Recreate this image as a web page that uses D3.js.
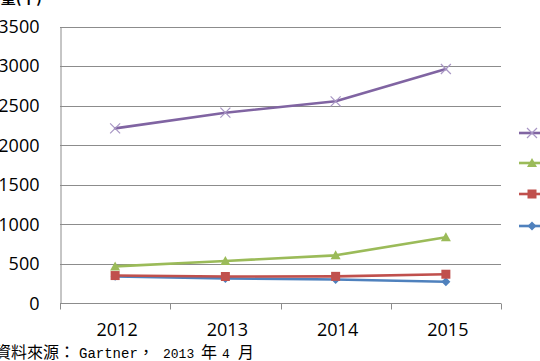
<!DOCTYPE html>
<html>
<head>
<meta charset="utf-8">
<script src="https://cdn.jsdelivr.net/npm/d3@7"></script>
<style>
  html, body { margin: 0; padding: 0; background: #fff; overflow: hidden; }
</style>
</head>
<body>
<div class="chart"></div>
<script>
// Data
var years = ["2012", "2013", "2014", "2015"];
var yTicks = [0, 500, 1000, 1500, 2000, 2500, 3000, 3500];
var seriesNames = ["PC", "PC+Ultramobile", "PC+Ultramobile+Tablet", "Total"];
var pcValues = [341, 315, 302, 272];
var ultraValues = [351, 339, 341, 368];
var tabletValues = [467, 536, 607, 836];
var totalValues = [2213, 2412, 2556, 2965];

var width = 540, height = 361;
var margin = { top: 27, right: 39, bottom: 58, left: 60 };

const svg = d3.select("div.chart")
    .append("svg")
    .attr("width", width)
    .attr("height", height);

var x = d3.scaleBand()
    .domain(years)
    .range([margin.left, width - margin.right]);
var y = d3.scaleLinear()
    .domain([0, 3500])
    .range([height - margin.bottom + 0.3, margin.top - 0.3]);

var grey = "#8c8c8c";

// Horizontal grid lines
svg.append("g")
    .selectAll("line")
    .data(yTicks)
    .join("line")
        .attr("x1", margin.left)
        .attr("x2", width - margin.right)
        .attr("y1", d => Math.round(y(d)) + 0.5)
        .attr("y2", d => Math.round(y(d)) + 0.5)
        .attr("stroke", grey)
        .attr("stroke-width", 1);

// Y axis
svg.append("g")
    .attr("transform", `translate(${margin.left + 0.5},0)`)
    .call(d3.axisLeft(y).tickValues(yTicks).tickFormat(d3.format("d")).tickSize(0).tickPadding(21))
    .call(g => g.select(".domain").attr("stroke", grey))
    .call(g => g.selectAll(".tick text")
        .attr("fill", "#000")
        .style("font-family", "'Open Sans', sans-serif")
        .style("font-size", "18px"));

// X axis: ticks sit between categories
var xAxisY = Math.round(y(0)) + 0.5;
var xg = svg.append("g");
xg.append("line")
    .attr("x1", margin.left)
    .attr("x2", width - margin.right)
    .attr("y1", xAxisY)
    .attr("y2", xAxisY)
    .attr("stroke", grey);
var boundaries = years.map(d => x(d)).concat([x(years[years.length - 1]) + x.bandwidth()]);
xg.selectAll("line.tk")
    .data(boundaries)
    .join("line")
        .attr("class", "tk")
        .attr("x1", d => Math.round(d) + 0.5)
        .attr("x2", d => Math.round(d) + 0.5)
        .attr("y1", xAxisY)
        .attr("y2", xAxisY + 6)
        .attr("stroke", grey);
xg.selectAll("text")
    .data(years)
    .join("text")
        .attr("x", d => x(d) + x.bandwidth() / 2 + 2)
        .attr("y", 336)
        .attr("text-anchor", "middle")
        .style("font-family", "'Open Sans', sans-serif")
        .style("font-size", "18px")
        .text(d => d);

// Series, drawn back to front
var series = [
    { name: seriesNames[0], values: pcValues, color: "#4F81BD", marker: "diamond" },
    { name: seriesNames[1], values: ultraValues, color: "#C0504D", marker: "square" },
    { name: seriesNames[2], values: tabletValues, color: "#9BBB59", marker: "triangle" },
    { name: seriesNames[3], values: totalValues, color: "#8064A2", marker: "cross" }
];

var line = d3.line()
    .x((d, i) => x(years[i]) + x.bandwidth() / 2)
    .y(d => y(d));

function drawMarker(g, type, color) {
    if (type === "diamond") {
        g.append("path").attr("d", "M0,-4.5L4.5,0L0,4.5L-4.5,0Z").attr("fill", color);
    } else if (type === "square") {
        g.append("rect").attr("x", -4.5).attr("y", -4.5).attr("width", 9).attr("height", 9).attr("fill", color);
    } else if (type === "triangle") {
        g.append("path").attr("d", "M0,-5L5,4L-5,4Z").attr("fill", color);
    } else {
        g.append("path").attr("d", "M-5,-5L5,5M-5,5L5,-5")
            .attr("stroke", "#a896c4").attr("stroke-width", 1.2).attr("fill", "none");
    }
}

series.forEach(function (s) {
    var g = svg.append("g");
    g.append("path")
        .datum(s.values)
        .attr("d", line)
        .attr("fill", "none")
        .attr("stroke", s.color)
        .attr("stroke-width", 2.6)
        .attr("stroke-linejoin", "round")
        .attr("stroke-linecap", "round");
    s.values.forEach(function (v, i) {
        var m = g.append("g")
            .attr("transform", `translate(${x(years[i]) + x.bandwidth() / 2},${y(v)})`);
        drawMarker(m, s.marker, s.color);
    });
});

// Legend (labels fall outside the picture)
var legendY = [226, 194, 163, 133];
series.forEach(function (s, i) {
    var g = svg.append("g").attr("transform", `translate(0,${legendY[i]})`);
    g.append("line")
        .attr("x1", 519).attr("x2", 548)
        .attr("y1", 0).attr("y2", 0)
        .attr("stroke", s.color)
        .attr("stroke-width", 2.6);
    var m = g.append("g").attr("transform", "translate(532,0)");
    drawMarker(m, s.marker, s.color);
});

// Unit title, cut at the top
svg.append("text")
    .attr("x", 42)
    .attr("y", 3)
    .attr("text-anchor", "end")
    .style("font-family", "'Noto Sans CJK TC', sans-serif")
    .style("font-size", "15px")
    .style("font-weight", "bold")
    .text("出貨量(千)");

// Source note
var cjk = "'Noto Sans CJK TC', serif";
var mono = "'Liberation Mono', monospace";
var srcParts = [
    { t: "資料來源：", x: -5, f: cjk, s: 16 },
    { t: "Gartner", x: 79, f: mono, s: 14 },
    { t: "，", x: 138, f: cjk, s: 16 },
    { t: "2013", x: 163, f: mono, s: 13 },
    { t: "年", x: 201, f: cjk, s: 16 },
    { t: "4", x: 222, f: mono, s: 13 },
    { t: "月", x: 238, f: cjk, s: 16 }
];
var src = svg.append("text")
    .attr("y", 358)
    .attr("fill", "#000");
src.selectAll("tspan")
    .data(srcParts)
    .join("tspan")
        .attr("x", d => d.x)
        .style("font-family", d => d.f)
        .style("font-size", d => d.s + "px")
        .text(d => d.t);
</script>
</body>
</html>
